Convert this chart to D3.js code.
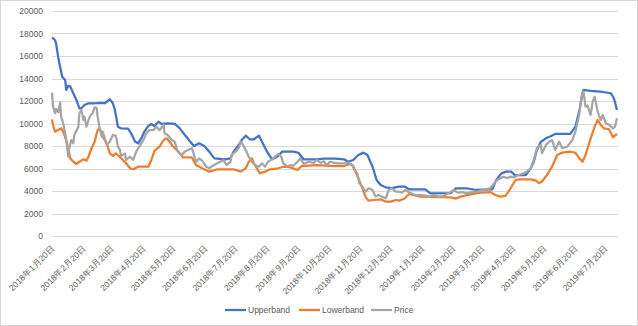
<!DOCTYPE html>
<html><head><meta charset="utf-8">
<script src="https://cdn.jsdelivr.net/npm/d3@7"></script>
<style>body{margin:0;background:#fff}text{font-family:"Liberation Sans",Arial,sans-serif;fill:#595959}</style>
</head><body><svg id="c" width="638" height="326"></svg>
<script>
const seriesNames = ["Upperband","Lowerband","Price"];
const seriesColors = ["#4472C4","#ED7D31","#A5A5A5"];
const yTicks = [0,2000,4000,6000,8000,10000,12000,14000,16000,18000,20000];
const tickDates = ["2018-01-20","2018-02-20","2018-03-20","2018-04-20","2018-05-20","2018-06-20","2018-07-20","2018-08-20","2018-09-20","2018-10-20","2018-11-20","2018-12-20","2019-01-20","2019-02-20","2019-03-20","2019-04-20","2019-05-20","2019-06-20","2019-07-20"];
const dateDomain = ["2018-01-20","2019-08-01"];

const upperband = [["2018-01-20",17550],["2018-01-21",17600],["2018-01-23",17400],["2018-01-24",17130],["2018-01-26",15940],["2018-01-28",15050],["2018-01-30",14160],["2018-02-02",13870],["2018-02-03",12980],["2018-02-05",13360],["2018-02-07",13300],["2018-02-10",12690],["2018-02-13",12090],["2018-02-16",11350],["2018-02-18",11350],["2018-02-21",11650],["2018-02-25",11800],["2018-03-03",11800],["2018-03-10",11830],["2018-03-13",11800],["2018-03-18",12150],["2018-03-21",11800],["2018-03-23",11200],["2018-03-26",9720],["2018-03-29",9570],["2018-04-05",9540],["2018-04-08",9130],["2018-04-12",8380],["2018-04-15",8240],["2018-04-18",8680],["2018-04-21",9270],["2018-04-25",9780],["2018-04-28",9960],["2018-05-01",9780],["2018-05-05",10160],["2018-05-08",9960],["2018-05-14",10020],["2018-05-21",9960],["2018-05-26",9570],["2018-05-31",8980],["2018-06-04",8530],["2018-06-06",8300],["2018-06-09",8000],["2018-06-14",8240],["2018-06-19",8000],["2018-06-24",7500],["2018-06-29",6900],["2018-07-10",6820],["2018-07-15",6900],["2018-07-18",7500],["2018-07-23",8090],["2018-07-26",8530],["2018-07-30",8920],["2018-08-03",8600],["2018-08-07",8600],["2018-08-12",8920],["2018-08-15",8380],["2018-08-20",7500],["2018-08-25",6820],["2018-08-30",7050],["2018-09-04",7500],["2018-09-15",7500],["2018-09-20",7400],["2018-09-25",6820],["2018-10-08",6820],["2018-10-15",6870],["2018-10-26",6870],["2018-11-04",6820],["2018-11-08",6600],["2018-11-13",6760],["2018-11-18",7200],["2018-11-23",7410],["2018-11-27",7200],["2018-12-02",6160],["2018-12-06",4980],["2018-12-10",4530],["2018-12-15",4330],["2018-12-21",4250],["2018-12-28",4380],["2019-01-03",4380],["2019-01-07",4150],["2019-01-23",4150],["2019-01-28",3790],["2019-02-17",3800],["2019-02-22",4240],["2019-03-05",4240],["2019-03-14",4090],["2019-03-30",4150],["2019-04-03",4980],["2019-04-08",5570],["2019-04-13",5720],["2019-04-18",5720],["2019-04-21",5420],["2019-05-02",5420],["2019-05-07",6020],["2019-05-10",6600],["2019-05-13",7650],["2019-05-17",8380],["2019-05-22",8680],["2019-05-27",8890],["2019-05-31",9070],["2019-06-15",9070],["2019-06-20",9720],["2019-06-24",11200],["2019-06-27",12690],["2019-06-28",12980],["2019-07-05",12900],["2019-07-15",12830],["2019-07-25",12690],["2019-07-28",12240],["2019-07-31",11200]];

const lowerband = [["2018-01-20",10370],["2018-01-21",9870],["2018-01-23",9270],["2018-01-26",9420],["2018-01-29",9570],["2018-01-31",9270],["2018-02-03",8530],["2018-02-05",7800],["2018-02-07",6900],["2018-02-10",6600],["2018-02-13",6400],["2018-02-16",6600],["2018-02-20",6820],["2018-02-23",6700],["2018-02-25",7050],["2018-02-28",7800],["2018-03-03",8380],["2018-03-06",9420],["2018-03-08",9570],["2018-03-11",8830],["2018-03-15",8240],["2018-03-18",7350],["2018-03-21",7110],["2018-03-24",7350],["2018-03-31",6760],["2018-04-03",6460],["2018-04-07",6020],["2018-04-10",5930],["2018-04-15",6160],["2018-04-25",6160],["2018-04-28",6760],["2018-05-01",7560],["2018-05-06",7940],["2018-05-10",8530],["2018-05-13",8680],["2018-05-16",8380],["2018-05-19",8000],["2018-05-23",7650],["2018-05-26",7350],["2018-05-29",7000],["2018-06-03",7000],["2018-06-07",6960],["2018-06-11",6310],["2018-06-17",6020],["2018-06-24",5720],["2018-07-02",5930],["2018-07-18",5930],["2018-07-25",5720],["2018-07-30",6020],["2018-08-02",6600],["2018-08-05",6900],["2018-08-08",6310],["2018-08-13",5570],["2018-08-18",5720],["2018-08-23",5930],["2018-08-31",6020],["2018-09-05",6160],["2018-09-12",6100],["2018-09-19",5870],["2018-09-23",6220],["2018-10-08",6310],["2018-10-26",6220],["2018-11-04",6220],["2018-11-10",6400],["2018-11-13",6220],["2018-11-18",5130],["2018-11-22",4240],["2018-11-25",3500],["2018-11-28",3140],["2018-12-03",3200],["2018-12-10",3260],["2018-12-15",3050],["2018-12-20",3050],["2018-12-25",3200],["2018-12-29",3150],["2019-01-03",3350],["2019-01-07",3730],["2019-01-12",3640],["2019-01-18",3500],["2019-02-17",3440],["2019-02-22",3320],["2019-02-27",3500],["2019-03-05",3640],["2019-03-14",3790],["2019-03-18",3850],["2019-03-28",3910],["2019-04-02",3640],["2019-04-07",3500],["2019-04-12",3560],["2019-04-15",3940],["2019-04-19",4530],["2019-04-22",4980],["2019-04-27",5040],["2019-05-07",5040],["2019-05-12",4920],["2019-05-15",4690],["2019-05-18",4850],["2019-05-23",5420],["2019-05-28",6160],["2019-06-02",7200],["2019-06-07",7410],["2019-06-15",7500],["2019-06-20",7400],["2019-06-24",6900],["2019-06-27",6600],["2019-06-30",7200],["2019-07-04",8380],["2019-07-09",9720],["2019-07-12",10310],["2019-07-15",9870],["2019-07-18",9570],["2019-07-23",9500],["2019-07-27",8770],["2019-07-31",9070]];

const price = [["2018-01-20",12740],["2018-01-21",11500],["2018-01-23",10910],["2018-01-24",11300],["2018-01-26",11000],["2018-01-28",11850],["2018-01-29",10610],["2018-01-31",10020],["2018-02-02",9130],["2018-02-03",8530],["2018-02-05",7050],["2018-02-06",7800],["2018-02-08",8530],["2018-02-10",8240],["2018-02-11",8980],["2018-02-15",9720],["2018-02-16",10910],["2018-02-18",11200],["2018-02-20",10310],["2018-02-21",10600],["2018-02-23",9720],["2018-02-25",10310],["2018-02-27",10730],["2018-03-01",10910],["2018-03-03",11440],["2018-03-05",11400],["2018-03-06",10610],["2018-03-08",9570],["2018-03-10",8830],["2018-03-11",9270],["2018-03-13",8680],["2018-03-15",8090],["2018-03-18",8380],["2018-03-21",8980],["2018-03-24",8900],["2018-03-26",7940],["2018-03-28",7650],["2018-03-29",7110],["2018-04-02",7350],["2018-04-03",6760],["2018-04-07",7050],["2018-04-10",6760],["2018-04-13",7500],["2018-04-17",8090],["2018-04-20",8530],["2018-04-23",9130],["2018-04-26",9420],["2018-04-30",9400],["2018-05-03",9720],["2018-05-06",9400],["2018-05-10",9870],["2018-05-11",9130],["2018-05-14",8980],["2018-05-18",8530],["2018-05-21",8380],["2018-05-24",7500],["2018-05-28",7200],["2018-05-31",7500],["2018-06-03",7650],["2018-06-07",7800],["2018-06-11",6600],["2018-06-14",6900],["2018-06-17",6700],["2018-06-21",6160],["2018-06-24",6020],["2018-06-27",6220],["2018-07-02",6460],["2018-07-05",6600],["2018-07-08",6760],["2018-07-11",6310],["2018-07-15",6600],["2018-07-16",7200],["2018-07-20",7500],["2018-07-23",7800],["2018-07-25",8380],["2018-07-26",8300],["2018-07-28",8000],["2018-07-30",7650],["2018-08-02",7050],["2018-08-05",6600],["2018-08-08",6310],["2018-08-12",6160],["2018-08-15",6460],["2018-08-18",6160],["2018-08-21",6600],["2018-08-25",6820],["2018-08-28",7050],["2018-08-31",7300],["2018-09-03",7050],["2018-09-05",6460],["2018-09-09",6160],["2018-09-12",6310],["2018-09-15",6250],["2018-09-19",6600],["2018-09-22",6900],["2018-09-25",6400],["2018-09-30",6600],["2018-10-05",6500],["2018-10-08",6760],["2018-10-12",6500],["2018-10-15",6640],["2018-10-18",6310],["2018-10-21",6600],["2018-10-28",6460],["2018-11-04",6450],["2018-11-08",6520],["2018-11-12",6310],["2018-11-14",5870],["2018-11-17",5570],["2018-11-19",4690],["2018-11-22",4390],["2018-11-25",3940],["2018-11-28",4240],["2018-12-02",4090],["2018-12-05",3500],["2018-12-08",3640],["2018-12-11",3500],["2018-12-15",3350],["2018-12-18",4090],["2018-12-21",4240],["2018-12-25",3940],["2018-12-28",3950],["2018-12-31",3850],["2019-01-03",4090],["2019-01-08",3850],["2019-01-13",3640],["2019-01-18",3640],["2019-01-23",3580],["2019-01-28",3500],["2019-01-31",3640],["2019-02-05",3500],["2019-02-10",3550],["2019-02-15",3790],["2019-02-20",4090],["2019-02-24",3850],["2019-03-01",3900],["2019-03-05",3790],["2019-03-10",3900],["2019-03-15",3940],["2019-03-21",4090],["2019-03-28",4240],["2019-04-01",4690],["2019-04-04",4980],["2019-04-07",5130],["2019-04-10",5270],["2019-04-14",5150],["2019-04-17",5270],["2019-04-20",5200],["2019-04-25",5420],["2019-04-30",5570],["2019-05-03",5720],["2019-05-07",6020],["2019-05-10",6760],["2019-05-13",7800],["2019-05-17",8090],["2019-05-18",7350],["2019-05-22",8090],["2019-05-25",8380],["2019-05-28",8530],["2019-05-31",7650],["2019-06-04",8380],["2019-06-07",7800],["2019-06-12",7940],["2019-06-17",8530],["2019-06-20",9270],["2019-06-24",10910],["2019-06-26",12380],["2019-06-28",12830],["2019-06-30",11500],["2019-07-02",11600],["2019-07-05",10760],["2019-07-07",11940],["2019-07-09",12380],["2019-07-12",11050],["2019-07-15",10310],["2019-07-17",10760],["2019-07-20",10020],["2019-07-23",9900],["2019-07-27",9570],["2019-07-29",9720],["2019-07-31",10460]];

const parse = d3.timeParse("%Y-%m-%d");
const svg = d3.select("#c");
svg.append("rect").attr("x",0.5).attr("y",0.5).attr("width",637).attr("height",325).attr("fill","#fff").attr("stroke","#d9d9d9");

const x = d3.scaleTime().domain(dateDomain.map(parse)).range([52,618]);
const y = d3.scaleLinear().domain([0,20000]).range([236,11]);

const grid = svg.append("g");
grid.selectAll("line").data(yTicks).join("line")
  .attr("x1",52).attr("x2",618).attr("y1",d=>Math.round(y(d))+0.5).attr("y2",d=>Math.round(y(d))+0.5)
  .attr("stroke","#d9d9d9").attr("stroke-width",1);

const yAxis = svg.append("g").attr("transform","translate(52,0)")
  .call(d3.axisLeft(y).tickValues(yTicks).tickSize(0).tickPadding(9).tickFormat(d3.format("d")));
yAxis.select(".domain").remove();
yAxis.selectAll("text").attr("font-size",8.5).attr("fill","#595959").attr("font-family","Liberation Sans, Arial, sans-serif");

const fmt = d => `${d.getFullYear()}年${d.getMonth()+1}月${d.getDate()}日`;
const xg = svg.append("g");
xg.selectAll("text").data(tickDates.map(parse)).join("text")
  .attr("transform",d=>`translate(${x(d)+3},249) rotate(-45)`)
  .attr("text-anchor","end").attr("font-size",8.5).attr("fill","#595959")
  .text(fmt);

const line = d3.line().x(d=>x(parse(d[0]))).y(d=>y(d[1]));
[upperband,lowerband,price].forEach((s,i)=>{
  svg.append("path").datum(s).attr("d",line).attr("fill","none")
    .attr("stroke",seriesColors[i]).attr("stroke-width",2.25).attr("stroke-linejoin","round");
});

const legendX = [225,299,371];
const lg = svg.append("g");
seriesNames.forEach((n,i)=>{
  lg.append("line").attr("x1",legendX[i]).attr("x2",legendX[i]+21).attr("y1",310).attr("y2",310)
    .attr("stroke",seriesColors[i]).attr("stroke-width",2.25);
  lg.append("text").attr("x",legendX[i]+23).attr("y",313).attr("font-size",8.5).attr("fill","#595959").text(n);
});
</script></body></html>
